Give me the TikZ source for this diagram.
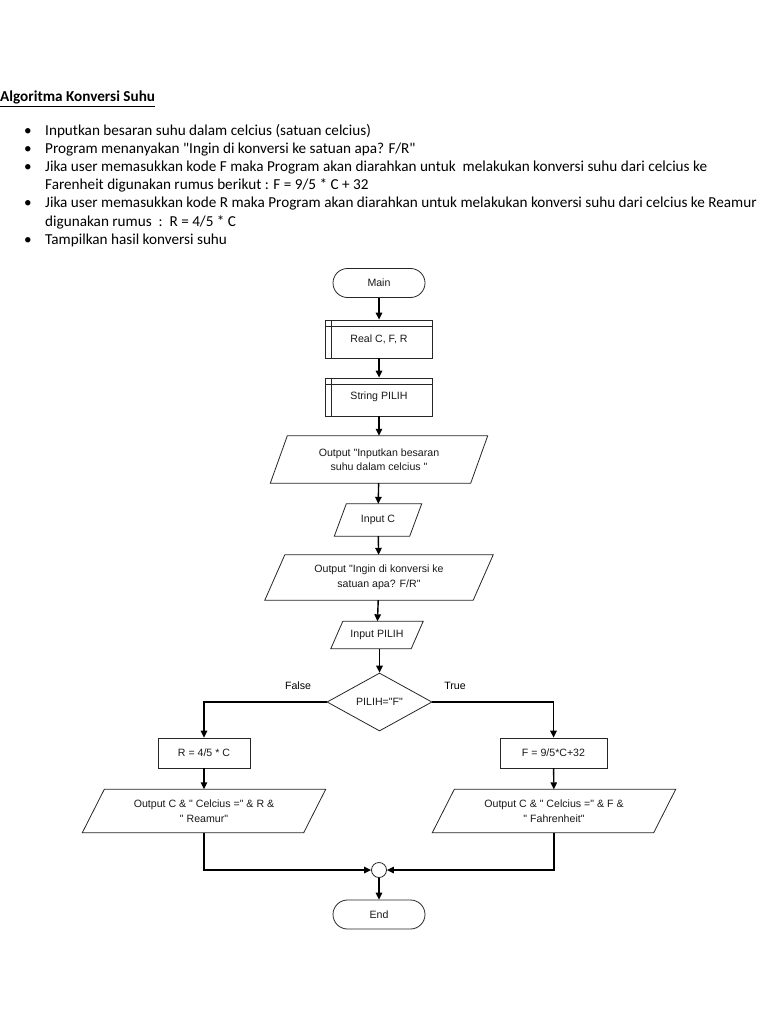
\documentclass[tikz,border=0pt]{standalone}
\usepackage{fontspec}
\newfontfamily\calib{Carlito}
\newfontfamily\arialf{Liberation Sans}
\usetikzlibrary{shapes.geometric,arrows.meta,calc}
\begin{document}
\begin{tikzpicture}[x=1pt,y=-1pt,
  outline/.style={draw=black!85,line width=0.8pt},
  fc/.style={font=\arialf\fontsize{10.6}{14.5}\selectfont,align=center,inner sep=0pt,text=black!90},
  term/.style={fc,outline,rounded corners=14.5pt,minimum width=92pt,minimum height=29pt},
  procbox/.style={fc,outline,rectangle,minimum height=30pt},
  predef/.style={fc,outline,rectangle,minimum width=107pt,minimum height=38pt},
  iobox/.style={fc,rectangle,draw=none},
  decis/.style={fc,outline,diamond,minimum width=105pt,minimum height=58pt},
  junc/.style={outline,circle,minimum size=15pt,inner sep=0pt},
  conn/.style={line width=1.4pt,-{Triangle[length=7pt,width=6.5pt]}},
  txt/.style={font=\calib\fontsize{15.2}{18}\selectfont,anchor=base west,inner sep=0pt},
  lbl/.style={font=\arialf\fontsize{10.6}{12}\selectfont,inner sep=0pt}]
\useasboundingbox[fill=white] (0,0) rectangle (768,1024);

% header text
\node[txt,font=\calib\bfseries\fontsize{15.2}{18}\selectfont] (title) at (0,102) {\underline{Algoritma Konversi Suhu}};
\node[txt] (b1) at (24,136) {•};
\node[txt] (t1) at (45,136) {Inputkan besaran suhu dalam celcius (satuan celcius)};
\node[txt] (b2) at (24,154) {•};
\node[txt] (t2) at (45,154) {Program menanyakan "Ingin di konversi ke satuan apa? F/R"};
\node[txt] (b3) at (24,172) {•};
\node[txt] (t3) at (45,172) {Jika user memasukkan kode F maka Program akan diarahkan untuk\ \ melakukan konversi suhu dari celcius ke};
\node[txt] (t3b) at (45,190) {Farenheit digunakan rumus berikut : F = 9/5 * C + 32};
\node[txt] (b4) at (24,208) {•};
\node[txt] (t4) at (45,208) {Jika user memasukkan kode R maka Program akan diarahkan untuk melakukan konversi suhu dari celcius ke Reamur};
\node[txt] (t4b) at (45,226) {digunakan rumus\ \ :\ \ R = 4/5 * C};
\node[txt] (b5) at (24,244) {•};
\node[txt] (t5) at (45,244) {Tampilkan hasil konversi suhu};

% flowchart nodes
\node[term] (main) at (379,283) {Main};
\node[predef] (real) at (379,339) {Real C, F, R};
\node[predef] (str) at (379,397) {String PILIH};
\node[iobox,minimum width=200pt,minimum height=47pt] (o1) at (379,459.5) {Output "Inputkan besaran\\suhu dalam celcius "};
\node[iobox,minimum width=75pt,minimum height=32pt] (ic) at (378,520) {Input C};
\node[iobox,minimum width=208pt,minimum height=45pt] (o2) at (379,577.5) {Output "Ingin di konversi ke\\satuan apa? F/R"};
\node[iobox,minimum width=80pt,minimum height=27pt] (ip) at (377,635) {Input PILIH};
\node[decis] (dec) at (379.5,702) {PILIH="F"};
\node[procbox,minimum width=92pt] (rb) at (204,753) {R = 4/5 * C};
\node[procbox,minimum width=107pt] (fb) at (553.5,753) {F = 9/5*C+32};
\node[iobox,minimum width=221pt,minimum height=43pt] (ol) at (204,811) {Output C \& " Celcius =" \& R \&\\" Reamur"};
\node[iobox,minimum width=221pt,minimum height=43pt] (or) at (554,811) {Output C \& " Celcius =" \& F \&\\" Fahrenheit"};
\node[junc] (j) at (379,870) {};
\node[term] (end) at (379,914.5) {End};

% predefined process inner lines
\foreach \n in {real,str}{
  \draw[outline] ([xshift=6pt]\n.north west) -- ([xshift=6pt]\n.south west);
  \draw[outline] ([yshift=-7pt]\n.north west) -- ([yshift=-7pt]\n.north east);
}
% parallelograms
\foreach \n/\s in {o1/17,ic/12,o2/20,ip/12,ol/22,or/22}{
  \draw[outline] ([xshift=\s/2*1pt]\n.north west) -- ([xshift=\s/2*1pt]\n.north east)
     -- ([xshift=-\s/2*1pt]\n.south east) -- ([xshift=-\s/2*1pt]\n.south west) -- cycle;
}

% labels
\node[lbl] (lf) at (298,686) {False};
\node[lbl] (lt) at (455,686) {True};

% connectors
\draw[conn] (main) -- (real);
\draw[conn] (real) -- (str);
\draw[conn] (str) -- (o1);
\draw[conn] (o1) -- (ic);
\draw[conn] (ic) -- (o2);
\draw[conn] (o2) -- (ip);
\draw[conn] (ip.south -| dec.north) -- (dec.north);
\draw[conn] (dec.west) -| (rb.north);
\draw[conn] (dec.east) -| (fb.north);
\draw[conn] (rb) -- (ol);
\draw[conn] (fb) -- (or);
\draw[conn] (ol.south) |- (j.west);
\draw[conn] (or.south) |- (j.east);
\draw[conn] (j) -- (end);
\end{tikzpicture}
\end{document}
